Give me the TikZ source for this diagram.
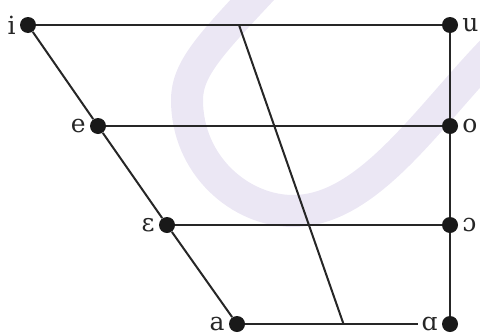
\documentclass[tikz,border=0pt]{standalone}
\usepackage{fontspec}
\setmainfont{DejaVu Serif}
\usepackage{tikz}
\usetikzlibrary{calc}
\definecolor{wmark}{RGB}{235,231,244}

\begin{document}
\begin{tikzpicture}[
    x=0.5pt, y=0.5pt,
    font=\fontsize{12.5}{15}\selectfont,
    vowel/.style={circle, fill=black!90, inner sep=0pt, minimum size=8pt},
    vlabel/.style={inner sep=1.8pt, text=black!85},
    chart/.style={line width=1pt, draw=black!85},
]
\useasboundingbox (0,0) rectangle (480,333);

% faint background swoosh
\draw[wmark, line width=16pt, line cap=round]
    (268,350) .. controls (212,290) and (187,265) .. (187,233)
    .. controls (187,168) and (240,122) .. (293,122)
    .. controls (370,122) and (430,220) .. (500,290);

% front vowels
\node[vowel, label={[vlabel]left:i}] (i) at (28,308) {};
\node[vowel, label={[vlabel]left:e}] (e) at (98,207) {};
\node[vowel, label={[vlabel]left:ɛ}] (eps) at (167,108) {};
\node[vowel, label={[vlabel]left:a}] (a) at (237,9) {};

% back vowels
\node[vowel, label={[vlabel]right:u}] (u) at (450,308) {};
\node[vowel, label={[vlabel]right:o}] (o) at (450,207) {};
\node[vowel, label={[vlabel]right:ɔ}] (openo) at (450,108) {};
\node[vowel, label={[vlabel, name=alphalbl]left:ɑ}] (alpha) at (450,9) {};

% chart lines
\draw[chart] (i) -- (u);
\draw[chart] (e) -- (o);
\draw[chart] (eps) -- (openo);
\draw[chart] (a) -- (alphalbl);
\draw[chart] (i) -- (e) -- (eps) -- (a);
\draw[chart] (u) -- (o) -- (openo) -- (alpha);
\draw[chart] ($(i)!0.5!(u)$) -- ($(a)!0.5!(alpha)$);

\end{tikzpicture}
\end{document}
